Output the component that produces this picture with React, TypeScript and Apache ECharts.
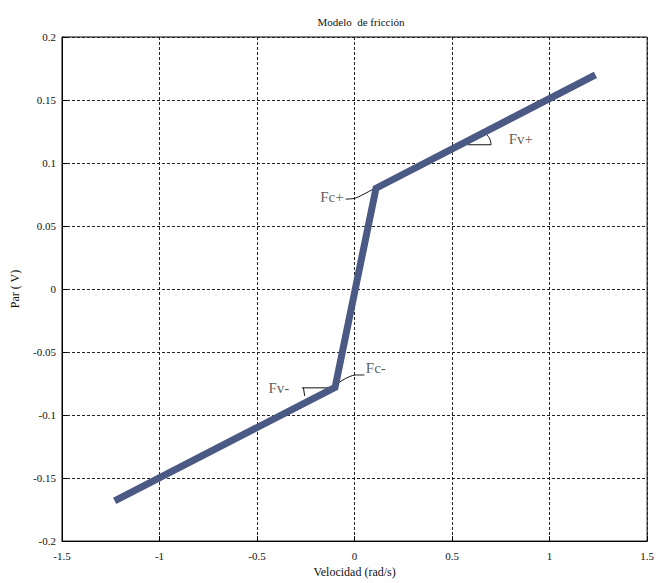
import React, { useEffect, useRef } from "react";
import * as echarts from "echarts";

const titleText = "Modelo  de fricción";
const xAxisName = "Velocidad (rad/s)";
const yAxisName = "Par ( V)";

const xTicks = [-1.5, -1, -0.5, 0, 0.5, 1, 1.5];
const yTicks = [-0.2, -0.15, -0.1, -0.05, 0, 0.05, 0.1, 0.15, 0.2];

// Friction model: [velocity, torque]
const frictionModel: [number, number][] = [
  [-1.23, -0.168],
  [-0.1, -0.078],
  [0.11, 0.08],
  [1.235, 0.17],
];

// Annotation leader lines (data coords)
const fcPlusLeader: [number, number][] = [
  [-0.046, 0.0714],
  [0.005, 0.0722],
  [0.112, 0.0808],
];
const fvPlusH: [number, number][] = [
  [0.58, 0.1145],
  [0.7, 0.1145],
];
const fvPlusV: [number, number][] = [
  [0.678, 0.1225],
  [0.694, 0.119],
  [0.7, 0.1145],
];
const fcMinusLeader: [number, number][] = [
  [-0.107, -0.0769],
  [0.005, -0.0682],
  [0.051, -0.0682],
];
const fvMinusH: [number, number][] = [
  [-0.27, -0.0784],
  [-0.117, -0.0784],
];
const fvMinusV: [number, number][] = [
  [-0.262, -0.0784],
  [-0.256, -0.0848],
];

const annotationLabels: { name: string; value: [number, number]; align: string }[] = [
  { name: "Fc+", value: [-0.056, 0.073], align: "right" },
  { name: "Fv+", value: [0.79, 0.119], align: "left" },
  { name: "Fc-", value: [0.058, -0.0625], align: "left" },
  { name: "Fv-", value: [-0.335, -0.0784], align: "right" },
];

const FONT = "Liberation Serif";

export default function App() {
  const ref = useRef<HTMLDivElement>(null);
  useEffect(() => {
    if (!ref.current) return;
    const chart = echarts.init(ref.current, undefined, { renderer: "svg" });
    const thin = (data: [number, number][]) => ({
      type: "line",
      data,
      symbol: "none",
      smooth: data.length > 2 ? 0.3 : false,
      lineStyle: { color: "#111", width: 1 },
      silent: true,
      z: 3,
    });
    chart.setOption({
      animation: false,
      backgroundColor: "#fff",
      textStyle: { fontFamily: FONT },
      title: {
        text: titleText,
        left: 356,
        textAlign: "center",
        top: 11,
        textStyle: { fontFamily: FONT, fontSize: 11, fontWeight: "normal", color: "#111" },
      },
      grid: {
        left: 62,
        right: 7,
        top: 37,
        bottom: 36,
        show: true,
        borderColor: "#000",
        borderWidth: 1,
        backgroundColor: "transparent",
      },
      xAxis: {
        type: "value",
        min: -1.5,
        max: 1.5,
        interval: 0.5,
        name: xAxisName,
        nameLocation: "middle",
        nameGap: 22,
        nameTextStyle: { fontFamily: FONT, fontSize: 12, color: "#111" },
        axisLine: { show: true, onZero: false, lineStyle: { color: "#000" } },
        axisTick: { show: true, inside: true, length: 5, lineStyle: { color: "#000" } },
        axisLabel: {
          fontFamily: FONT,
          fontSize: 11,
          color: "#111",
          margin: 9,
          formatter: (v: number) => (xTicks.includes(v) ? String(v) : ""),
        },
        splitLine: { show: true, lineStyle: { color: "#222", type: [3, 2], width: 1 } },
      },
      yAxis: {
        type: "value",
        min: -0.2,
        max: 0.2,
        interval: 0.05,
        name: yAxisName,
        nameLocation: "middle",
        nameGap: 41,
        nameTextStyle: { fontFamily: FONT, fontSize: 12, color: "#111" },
        axisLine: { show: true, onZero: false, lineStyle: { color: "#000" } },
        axisTick: { show: true, inside: true, length: 5, lineStyle: { color: "#000" } },
        axisLabel: {
          fontFamily: FONT,
          fontSize: 11,
          color: "#111",
          margin: 6,
          formatter: (v: number) => {
            const r = Math.round(v * 100) / 100;
            return yTicks.some((t) => Math.abs(t - r) < 1e-9) ? String(r) : "";
          },
        },
        splitLine: { show: true, lineStyle: { color: "#222", type: [3, 2], width: 1 } },
      },
      series: [
        {
          type: "line",
          data: frictionModel,
          symbol: "none",
          lineStyle: { color: "#4b5a84", width: 7, cap: "butt", join: "miter" },
          z: 4,
          silent: true,
        },
        thin(fcPlusLeader),
        thin(fvPlusH),
        thin(fvPlusV),
        thin(fcMinusLeader),
        thin(fvMinusH),
        thin(fvMinusV),
        {
          type: "scatter",
          symbolSize: 0,
          silent: true,
          z: 5,
          data: annotationLabels.map((a) => ({
            name: a.name,
            value: a.value,
            label: {
              show: true,
              formatter: a.name,
              position: "inside",
              align: a.align,
              verticalAlign: "middle",
              fontFamily: FONT,
              fontSize: 15,
              color: "#333",
            },
          })),
        },
      ],
    });
    return () => chart.dispose();
  }, []);
  return (
    <div
      ref={ref}
      style={{ position: "fixed", left: 0, top: 0, width: 657, height: 583 }}
    />
  );
}
